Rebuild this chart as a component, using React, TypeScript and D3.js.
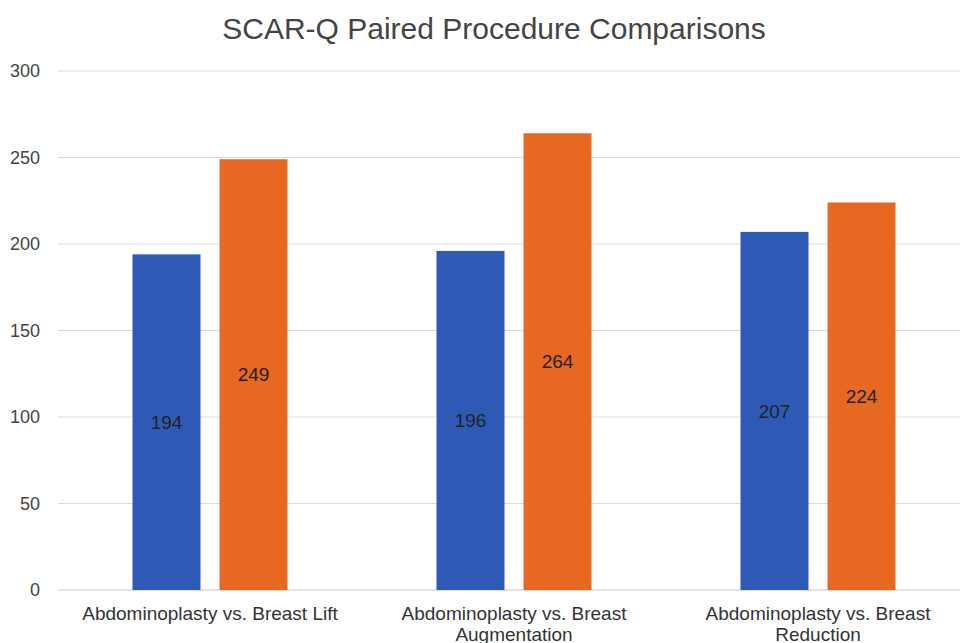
import React from "react";
import * as d3 from "d3";

// data
const categories = [
  ["Abdominoplasty vs. Breast Lift"],
  ["Abdominoplasty vs. Breast", "Augmentation"],
  ["Abdominoplasty vs. Breast", "Reduction"],
];
const firstValues = [194, 196, 207];
const secondValues = [249, 264, 224];
const yTicks = [0, 50, 100, 150, 200, 250, 300];
const seriesColors = ["#2e5ab6", "#e66821"];

const width = 960;
const height = 643;
const left = 58;
const right = 970; // plot runs past the cropped edge
const top = 71;
const bottom = 590;
const font = "Liberation Sans, Arial, Helvetica, sans-serif";

const App = () => {
  const x = d3
    .scaleBand<number>()
    .domain(categories.map((_, i) => i))
    .range([left, right]);

  const barW = 68;
  const gap = 19;
  const groupW = barW * 2 + gap;
  const inner = d3
    .scaleBand<number>()
    .domain([0, 1])
    .range([0, groupW])
    .paddingInner(gap / (barW + gap));

  const y = d3.scaleLinear().domain([0, 300]).range([bottom, top]);

  const series = [firstValues, secondValues];

  return (
    <svg
      width={width}
      height={height}
      style={{ position: "absolute", left: 0, top: 0, background: "#fff" }}
      fontFamily={font}
    >
      <text x={494} y={39} textAnchor="middle" fontSize={30} fill="#444">
        SCAR-Q Paired Procedure Comparisons
      </text>

      {yTicks.map((t) => (
        <g key={t}>
          <line x1={left} x2={width} y1={y(t)} y2={y(t)} stroke={t === 0 ? "#c8c8c8" : "#d9d9d9"} strokeWidth={1} />
          <text x={40} y={y(t)} dy="0.35em" textAnchor="end" fontSize={18} fill="#444">
            {t}
          </text>
        </g>
      ))}

      {categories.map((lines, i) => {
        const gx = (x(i) as number) + (x.bandwidth() - groupW) / 2;
        return (
          <g key={i}>
            {series.map((vals, s) => {
              const bx = gx + (inner(s) as number);
              const v = vals[i];
              return (
                <g key={s}>
                  <rect
                    x={bx}
                    y={y(v)}
                    width={inner.bandwidth()}
                    height={bottom - y(v)}
                    fill={seriesColors[s]}
                  />
                  <text
                    x={bx + inner.bandwidth() / 2}
                    y={y(v / 2)}
                    dy="0.35em"
                    textAnchor="middle"
                    fontSize={19}
                    fill="#222"
                  >
                    {v}
                  </text>
                </g>
              );
            })}
            {lines.map((ln, k) => (
              <text
                key={k}
                x={(x(i) as number) + x.bandwidth() / 2}
                y={620 + k * 21}
                textAnchor="middle"
                fontSize={19}
                fill="#333"
              >
                {ln}
              </text>
            ))}
          </g>
        );
      })}
    </svg>
  );
};

export default App;
